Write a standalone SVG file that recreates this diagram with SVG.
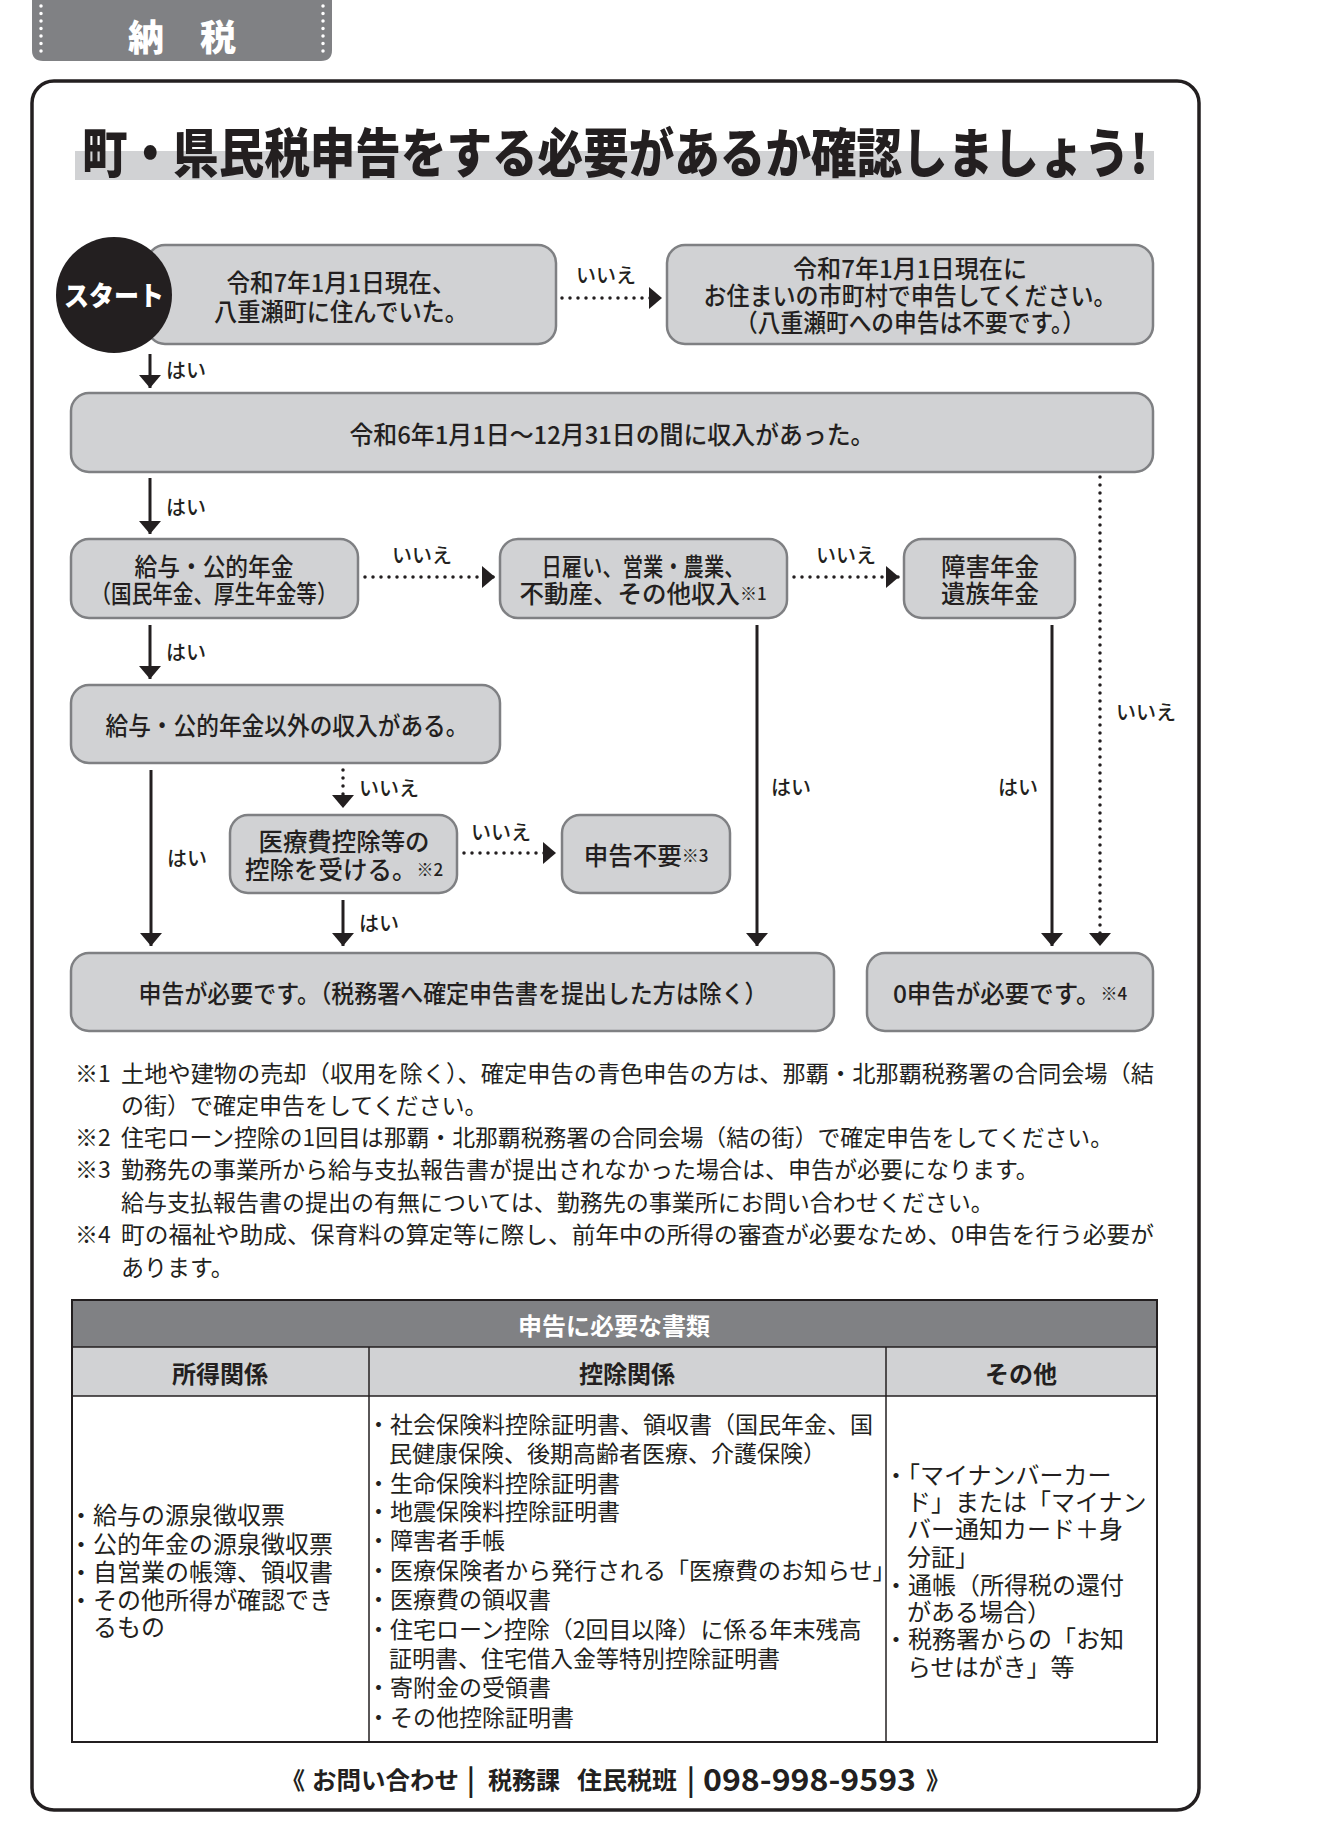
<svg xmlns="http://www.w3.org/2000/svg" width="1332" height="1846" viewBox="0 0 1332 1846">
<style>
text{font-family:"Noto Sans CJK JP","Noto Sans",sans-serif;fill:#231f20}
.box{fill:#d1d2d4;stroke:#7f8083;stroke-width:2.5}
.bt{font-size:24.5px;text-anchor:middle;dominant-baseline:central;font-weight:500}
.sm{font-size:17px}
.lbl{font-size:20px;dominant-baseline:central;font-weight:500}
.lblm{font-size:20px;dominant-baseline:central;text-anchor:middle;font-weight:500}
.sol{stroke:#231f20;stroke-width:3;fill:none}
.dot{stroke:#231f20;stroke-width:3.5;stroke-dasharray:0 8;stroke-linecap:round;fill:none}
.note{font-size:23px;dominant-baseline:central}
.c1{font-size:24px;dominant-baseline:central}
.c2{font-size:23px;dominant-baseline:central}
.c3{font-size:24px;dominant-baseline:central}
.th{font-size:24px;dominant-baseline:central;text-anchor:middle;font-weight:bold}
.wd{fill:#ffffff}
</style>
<defs>
<marker id="ah" viewBox="0 0 13 22" markerWidth="13" markerHeight="22" refX="13" refY="11" orient="auto" markerUnits="userSpaceOnUse">
<path d="M0,0 L13,11 L0,22 Z" fill="#231f20"/>
</marker>
</defs>

<g id="tab">
<path d="M32,0 H332 V50 Q332,61 321,61 H43 Q32,61 32,50 Z" fill="#808184"/>
<line x1="41" y1="6" x2="41" y2="55" stroke="#ffffff" stroke-width="3.5" stroke-dasharray="0 7.5" stroke-linecap="round"/>
<line x1="323" y1="6" x2="323" y2="55" stroke="#ffffff" stroke-width="3.5" stroke-dasharray="0 7.5" stroke-linecap="round"/>
<text x="182" y="35" class="wd" font-size="36" font-weight="900" text-anchor="middle" dominant-baseline="central">納　税</text>
</g>

<rect id="frame" x="32" y="81" width="1167" height="1729" rx="22" fill="none" stroke="#231f20" stroke-width="3.5"/>

<g id="title">
<rect x="75" y="151" width="1079" height="29" fill="#d1d2d4"/>
<text transform="translate(82,173) scale(1,1.15)" x="0" y="0" font-size="46" font-weight="900" textLength="1066" lengthAdjust="spacingAndGlyphs">町・県民税申告をする必要があるか確認しましょう!</text>
</g>

<g id="connectors">
<line class="sol" x1="150" y1="354" x2="150" y2="388" marker-end="url(#ah)"/>
<text class="lbl" x="166" y="369">はい</text>
<line class="dot" x1="562" y1="298" x2="662" y2="298" marker-end="url(#ah)"/>
<text class="lblm" x="606" y="274">いいえ</text>
<line class="sol" x1="150" y1="478" x2="150" y2="534" marker-end="url(#ah)"/>
<text class="lbl" x="166" y="506">はい</text>
<line class="dot" x1="365" y1="577" x2="495" y2="577" marker-end="url(#ah)"/>
<text class="lblm" x="422" y="554">いいえ</text>
<line class="dot" x1="794" y1="577" x2="899" y2="577" marker-end="url(#ah)"/>
<text class="lblm" x="846" y="554">いいえ</text>
<line class="dot" x1="1100" y1="477" x2="1100" y2="946" marker-end="url(#ah)"/>
<text class="lblm" x="1146" y="711">いいえ</text>
<line class="sol" x1="150" y1="625" x2="150" y2="679" marker-end="url(#ah)"/>
<text class="lbl" x="166" y="651">はい</text>
<line class="sol" x1="151" y1="770" x2="151" y2="946" marker-end="url(#ah)"/>
<text class="lblm" x="187" y="857">はい</text>
<line class="dot" x1="343" y1="770" x2="343" y2="808" marker-end="url(#ah)"/>
<text class="lbl" x="359" y="787">いいえ</text>
<line class="dot" x1="464" y1="853" x2="556" y2="853" marker-end="url(#ah)"/>
<text class="lblm" x="501" y="831">いいえ</text>
<line class="sol" x1="343" y1="900" x2="343" y2="946" marker-end="url(#ah)"/>
<text class="lbl" x="359" y="922">はい</text>
<line class="sol" x1="757" y1="625" x2="757" y2="946" marker-end="url(#ah)"/>
<text class="lbl" x="771" y="786">はい</text>
<line class="sol" x1="1052" y1="625" x2="1052" y2="946" marker-end="url(#ah)"/>
<text class="lblm" x="1018" y="786">はい</text>
</g>

<g id="box1">
<rect class="box" x="147" y="245" width="409" height="99" rx="18"/>
<text class="bt" x="341" y="281" textLength="229" lengthAdjust="spacingAndGlyphs">令和7年1月1日現在、</text>
<text class="bt" x="341" y="310" textLength="254" lengthAdjust="spacingAndGlyphs">八重瀬町に住んでいた。</text>
</g>

<g id="start">
<circle cx="114" cy="295" r="58" fill="#231f20"/>
<text x="114" y="294" class="wd" font-size="27" font-weight="900" text-anchor="middle" dominant-baseline="central" textLength="100" lengthAdjust="spacingAndGlyphs">スタート</text>
</g>

<g id="box2">
<rect class="box" x="667" y="245" width="486" height="99" rx="18"/>
<text class="bt" x="910" y="267" textLength="234" lengthAdjust="spacingAndGlyphs">令和7年1月1日現在に</text>
<text class="bt" x="910" y="294" textLength="413" lengthAdjust="spacingAndGlyphs">お住まいの市町村で申告してください。</text>
<text class="bt" x="910" y="321" textLength="350" lengthAdjust="spacingAndGlyphs">（八重瀬町への申告は不要です。）</text>
</g>

<g id="box3">
<rect class="box" x="71" y="393" width="1082" height="79" rx="18"/>
<text class="bt" x="612" y="433" textLength="525" lengthAdjust="spacingAndGlyphs">令和6年1月1日〜12月31日の間に収入があった。</text>
</g>

<g id="box4">
<rect class="box" x="71" y="539" width="287" height="79" rx="18"/>
<text class="bt" x="214" y="565" textLength="159" lengthAdjust="spacingAndGlyphs">給与・公的年金</text>
<text class="bt" x="214" y="592" textLength="247" lengthAdjust="spacingAndGlyphs">（国民年金、厚生年金等）</text>
</g>

<g id="box5">
<rect class="box" x="500" y="539" width="287" height="79" rx="18"/>
<text class="bt" x="643" y="565" textLength="203" lengthAdjust="spacingAndGlyphs">日雇い、営業・農業、</text>
<text class="bt" x="643" y="592">不動産、その他収入<tspan class="sm">※1</tspan></text>
</g>

<g id="box6">
<rect class="box" x="904" y="539" width="171" height="79" rx="18"/>
<text class="bt" x="990" y="565">障害年金</text>
<text class="bt" x="990" y="592">遺族年金</text>
</g>

<g id="box7">
<rect class="box" x="71" y="685" width="429" height="78" rx="18"/>
<text class="bt" x="287" y="724" textLength="363" lengthAdjust="spacingAndGlyphs">給与・公的年金以外の収入がある。</text>
</g>

<g id="box8">
<rect class="box" x="230" y="815" width="227" height="78" rx="18"/>
<text class="bt" x="344" y="840" textLength="171" lengthAdjust="spacingAndGlyphs">医療費控除等の</text>
<text class="bt" x="344" y="868">控除を受ける。<tspan class="sm">※2</tspan></text>
</g>

<g id="box9">
<rect class="box" x="562" y="815" width="168" height="78" rx="18"/>
<text class="bt" x="646" y="854">申告不要<tspan class="sm">※3</tspan></text>
</g>

<g id="box10">
<rect class="box" x="71" y="953" width="763" height="78" rx="18"/>
<text class="bt" x="453" y="992" textLength="629" lengthAdjust="spacingAndGlyphs">申告が必要です。（税務署へ確定申告書を提出した方は除く）</text>
</g>

<g id="box11">
<rect class="box" x="867" y="953" width="286" height="78" rx="18"/>
<text class="bt" x="1010" y="992">0申告が必要です。<tspan class="sm">※4</tspan></text>
</g>

<g id="notes">
<text class="note" x="75" y="1072">※1</text>
<text class="note" x="121" y="1072" textLength="1033" lengthAdjust="spacingAndGlyphs">土地や建物の売却（収用を除く）、確定申告の青色申告の方は、那覇・北那覇税務署の合同会場（結</text>
<text class="note" x="121" y="1104">の街）で確定申告をしてください。</text>
<text class="note" x="75" y="1136">※2</text>
<text class="note" x="121" y="1136" textLength="992" lengthAdjust="spacingAndGlyphs">住宅ローン控除の1回目は那覇・北那覇税務署の合同会場（結の街）で確定申告をしてください。</text>
<text class="note" x="75" y="1168">※3</text>
<text class="note" x="121" y="1168">勤務先の事業所から給与支払報告書が提出されなかった場合は、申告が必要になります。</text>
<text class="note" x="121" y="1201">給与支払報告書の提出の有無については、勤務先の事業所にお問い合わせください。</text>
<text class="note" x="75" y="1233">※4</text>
<text class="note" x="121" y="1233" textLength="1033" lengthAdjust="spacingAndGlyphs">町の福祉や助成、保育料の算定等に際し、前年中の所得の審査が必要なため、0申告を行う必要が</text>
<text class="note" x="121" y="1266">あります。</text>
</g>

<g id="table">
<rect x="72" y="1300" width="1085" height="47" fill="#808184"/>
<rect x="72" y="1347" width="1085" height="49" fill="#d1d2d4"/>
<rect x="72" y="1300" width="1085" height="442" fill="none" stroke="#231f20" stroke-width="2"/>
<line x1="72" y1="1347" x2="1157" y2="1347" stroke="#231f20" stroke-width="1.5"/>
<line x1="72" y1="1396" x2="1157" y2="1396" stroke="#231f20" stroke-width="1.5"/>
<line x1="369" y1="1347" x2="369" y2="1742" stroke="#231f20" stroke-width="1.5"/>
<line x1="886" y1="1347" x2="886" y2="1742" stroke="#231f20" stroke-width="1.5"/>
<text class="th wd" x="614" y="1324">申告に必要な書類</text>
<text class="th" x="220" y="1372">所得関係</text>
<text class="th" x="627" y="1372">控除関係</text>
<text class="th" x="1021" y="1372">その他</text>

<text class="c1" x="69" y="1513">・給与の源泉徴収票</text>
<text class="c1" x="69" y="1542">・公的年金の源泉徴収票</text>
<text class="c1" x="69" y="1570">・自営業の帳簿、領収書</text>
<text class="c1" x="69" y="1598">・その他所得が確認でき</text>
<text class="c1" x="93" y="1625">るもの</text>

<text class="c2" x="367" y="1423">・社会保険料控除証明書、領収書（国民年金、国</text>
<text class="c2" x="389" y="1452">民健康保険、後期高齢者医療、介護保険）</text>
<text class="c2" x="367" y="1482">・生命保険料控除証明書</text>
<text class="c2" x="367" y="1510">・地震保険料控除証明書</text>
<text class="c2" x="367" y="1539">・障害者手帳</text>
<text class="c2" x="367" y="1569">・医療保険者から発行される「医療費のお知らせ」</text>
<text class="c2" x="367" y="1598">・医療費の領収書</text>
<text class="c2" x="367" y="1628">・住宅ローン控除（2回目以降）に係る年末残高</text>
<text class="c2" x="389" y="1657">証明書、住宅借入金等特別控除証明書</text>
<text class="c2" x="367" y="1686">・寄附金の受領書</text>
<text class="c2" x="367" y="1716">・その他控除証明書</text>

<text class="c3" x="884" y="1473">・「マイナンバーカー</text>
<text class="c3" x="907" y="1500">ド」または「マイナン</text>
<text class="c3" x="907" y="1527">バー通知カード＋身</text>
<text class="c3" x="907" y="1555">分証」</text>
<text class="c3" x="884" y="1583">・通帳（所得税の還付</text>
<text class="c3" x="907" y="1610">がある場合）</text>
<text class="c3" x="884" y="1637">・税務署からの「お知</text>
<text class="c3" x="907" y="1665">らせはがき」等</text>
</g>

<g id="contact" font-weight="bold">
<text x="281" y="1778" font-size="24" dominant-baseline="central">《</text>
<text x="312" y="1778" font-size="24" dominant-baseline="central" textLength="147" lengthAdjust="spacingAndGlyphs">お問い合わせ</text>
<text x="471" y="1778" font-size="28" font-weight="bold" text-anchor="middle" dominant-baseline="central">|</text>
<text x="488" y="1778" font-size="24" dominant-baseline="central">税務課</text>
<text x="577" y="1778" font-size="24" dominant-baseline="central" textLength="100" lengthAdjust="spacingAndGlyphs">住民税班</text>
<text x="691" y="1778" font-size="28" font-weight="bold" text-anchor="middle" dominant-baseline="central">|</text>
<text x="703" y="1778" font-size="30" dominant-baseline="central" textLength="213" lengthAdjust="spacingAndGlyphs">098-998-9593</text>
<text x="926" y="1778" font-size="24" dominant-baseline="central">》</text>
</g>
</svg>
